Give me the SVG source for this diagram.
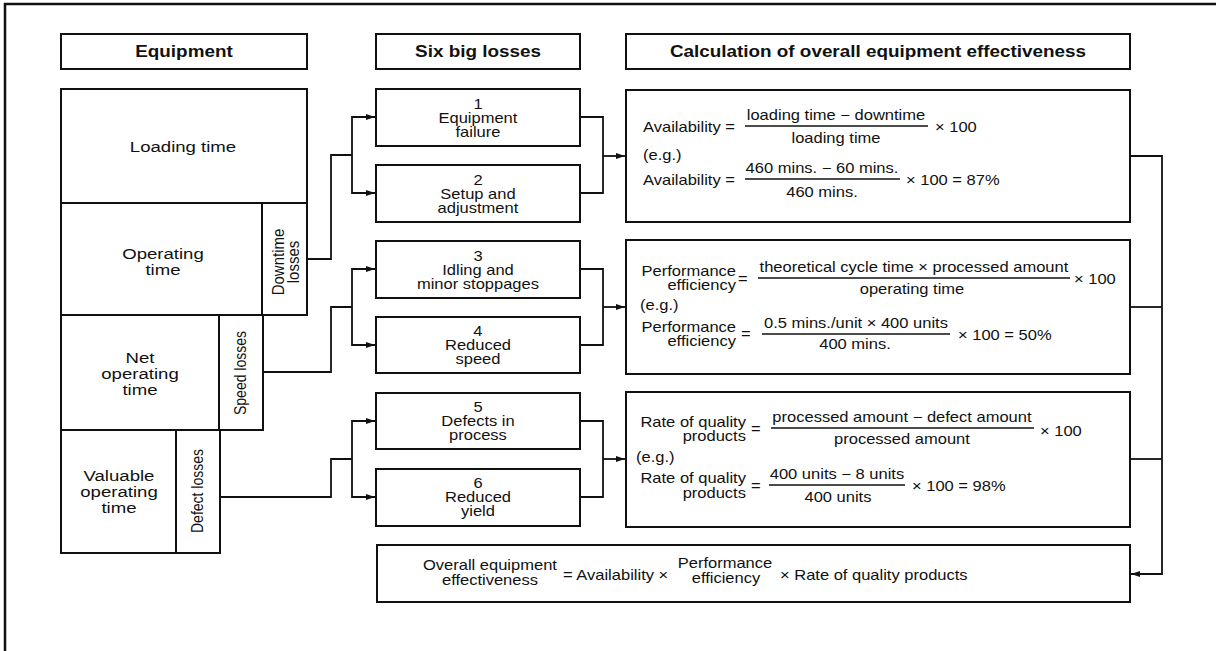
<svg xmlns="http://www.w3.org/2000/svg" width="1216" height="651" viewBox="0 0 1216 651">
  <style>
    .frame { fill: none; stroke: #111; stroke-width: 2.5; }
    .box { fill: #fff; stroke: #111; stroke-width: 2; }
    .ln { fill: none; stroke: #111; stroke-width: 1.8; }
    .bar { stroke: #111; stroke-width: 1.3; }
    text { font-family: "Liberation Sans", Arial, Helvetica, sans-serif; fill: #111; }
    /* the typeface is set slightly wide: glyphs are stretched horizontally around their anchor */
    .hd, .lb, .ls, .f, .fm, .fe { transform-box: fill-box; }
    .hd { font-size: 16px; font-weight: bold; text-anchor: middle; transform-origin: center; transform: scaleX(1.18); }
    .lb { font-size: 15px; text-anchor: middle; transform-origin: center; transform: scaleX(1.24); }
    .ls { font-size: 14px; text-anchor: middle; transform-origin: center; transform: scaleX(1.18); }
    .f { font-size: 14px; transform-origin: left; transform: scaleX(1.18); }
    .fm { font-size: 14px; text-anchor: middle; transform-origin: center; transform: scaleX(1.18); }
    .fe { font-size: 14px; text-anchor: end; transform-origin: right; transform: scaleX(1.18); }
    .rot { font-size: 15px; text-anchor: middle; }
    .rot-s { font-size: 14px; text-anchor: middle; }
  </style>
  <defs>
    <marker id="arrow" markerUnits="userSpaceOnUse" markerWidth="10" markerHeight="8" refX="9" refY="4" orient="auto">
      <path d="M0 1 L9 4 L0 7 Z" fill="#111"/>
    </marker>
  </defs>

  <rect width="1216" height="651" fill="#fff"/>
  <!-- page frame: top and left edges only -->
  <path class="frame" d="M5 651 V4 H1216"/>

  <!-- column headers -->
  <g id="hdr-equipment">
    <rect class="box" x="61" y="34" width="246" height="35"/>
    <text class="hd" x="184" y="57">Equipment</text>
  </g>
  <g id="hdr-losses">
    <rect class="box" x="376" y="34" width="204" height="35"/>
    <text class="hd" x="478" y="57">Six big losses</text>
  </g>
  <g id="hdr-calc">
    <rect class="box" x="626" y="34" width="504" height="35"/>
    <text class="hd" x="878" y="57">Calculation of overall equipment effectiveness</text>
  </g>

  <!-- equipment time breakdown -->
  <g id="loading-time">
    <rect class="box" x="61" y="89" width="246" height="114"/>
    <text class="lb" x="183" y="152">Loading time</text>
  </g>
  <g id="operating-time">
    <rect class="box" x="61" y="203" width="201" height="112"/>
    <text class="lb" x="163" y="259">Operating</text>
    <text class="lb" x="163" y="275">time</text>
  </g>
  <g id="downtime-losses">
    <rect class="box" x="262" y="203" width="45" height="112"/>
    <text class="rot" transform="translate(284 262) rotate(-90) scale(1 1.12)">Downtime</text>
    <text class="rot" transform="translate(299 262) rotate(-90) scale(1 1.12)">losses</text>
  </g>
  <g id="net-operating-time">
    <rect class="box" x="61" y="315" width="158" height="115"/>
    <text class="lb" x="140" y="363">Net</text>
    <text class="lb" x="140" y="379">operating</text>
    <text class="lb" x="140" y="395">time</text>
  </g>
  <g id="speed-losses">
    <rect class="box" x="219" y="315" width="44" height="115"/>
    <text class="rot-s" transform="translate(246 373) rotate(-90) scale(1 1.12)">Speed losses</text>
  </g>
  <g id="valuable-operating-time">
    <rect class="box" x="61" y="430" width="115" height="123"/>
    <text class="lb" x="119" y="481">Valuable</text>
    <text class="lb" x="119" y="497">operating</text>
    <text class="lb" x="119" y="513">time</text>
  </g>
  <g id="defect-losses">
    <rect class="box" x="176" y="430" width="44" height="123"/>
    <text class="rot-s" transform="translate(203 491) rotate(-90) scale(1 1.12)">Defect losses</text>
  </g>

  <!-- six big losses -->
  <g id="loss-1">
    <rect class="box" x="376" y="89" width="204" height="57"/>
    <text class="ls" x="478" y="109">1</text>
    <text class="ls" x="478" y="123">Equipment</text>
    <text class="ls" x="478" y="137">failure</text>
  </g>
  <g id="loss-2">
    <rect class="box" x="376" y="165" width="204" height="57"/>
    <text class="ls" x="478" y="185">2</text>
    <text class="ls" x="478" y="199">Setup and</text>
    <text class="ls" x="478" y="213">adjustment</text>
  </g>
  <g id="loss-3">
    <rect class="box" x="376" y="241" width="204" height="57"/>
    <text class="ls" x="478" y="261">3</text>
    <text class="ls" x="478" y="275">Idling and</text>
    <text class="ls" x="478" y="289">minor stoppages</text>
  </g>
  <g id="loss-4">
    <rect class="box" x="376" y="317" width="204" height="56"/>
    <text class="ls" x="478" y="336">4</text>
    <text class="ls" x="478" y="350">Reduced</text>
    <text class="ls" x="478" y="364">speed</text>
  </g>
  <g id="loss-5">
    <rect class="box" x="376" y="393" width="204" height="56"/>
    <text class="ls" x="478" y="412">5</text>
    <text class="ls" x="478" y="426">Defects in</text>
    <text class="ls" x="478" y="440">process</text>
  </g>
  <g id="loss-6">
    <rect class="box" x="376" y="469" width="204" height="57"/>
    <text class="ls" x="478" y="488">6</text>
    <text class="ls" x="478" y="502">Reduced</text>
    <text class="ls" x="478" y="516">yield</text>
  </g>

  <!-- availability -->
  <g id="calc-availability">
    <rect class="box" x="626" y="90" width="504" height="132"/>
    <text class="f" x="643" y="132">Availability =</text>
    <text class="fm" x="836" y="120">loading time − downtime</text>
    <line class="bar" x1="745" y1="126" x2="928" y2="126"/>
    <text class="fm" x="836" y="143">loading time</text>
    <text class="f" x="935" y="132">× 100</text>
    <text class="f" x="643" y="160">(e.g.)</text>
    <text class="f" x="643" y="185">Availability =</text>
    <text class="fm" x="822" y="173">460 mins. − 60 mins.</text>
    <line class="bar" x1="745" y1="179" x2="900" y2="179"/>
    <text class="fm" x="822" y="197">460 mins.</text>
    <text class="f" x="906" y="185">× 100 = 87%</text>
  </g>

  <!-- performance efficiency -->
  <g id="calc-performance">
    <rect class="box" x="626" y="240" width="504" height="134"/>
    <text class="fe" x="736" y="276">Performance</text>
    <text class="fe" x="736" y="290">efficiency</text>
    <text class="f" x="738" y="284">=</text>
    <text class="fm" x="914" y="272">theoretical cycle time × processed amount</text>
    <line class="bar" x1="758" y1="278" x2="1070" y2="278"/>
    <text class="fm" x="912" y="294">operating time</text>
    <text class="f" x="1074" y="284">× 100</text>
    <text class="f" x="640" y="310">(e.g.)</text>
    <text class="fe" x="736" y="332">Performance</text>
    <text class="fe" x="736" y="346">efficiency</text>
    <text class="f" x="741" y="339">=</text>
    <text class="fm" x="856" y="328">0.5 mins./unit × 400 units</text>
    <line class="bar" x1="762" y1="334" x2="950" y2="334"/>
    <text class="fm" x="855" y="349">400 mins.</text>
    <text class="f" x="958" y="340">× 100 = 50%</text>
  </g>

  <!-- rate of quality products -->
  <g id="calc-quality">
    <rect class="box" x="626" y="392" width="504" height="135"/>
    <text class="fe" x="746" y="427">Rate of quality</text>
    <text class="fe" x="746" y="441">products</text>
    <text class="f" x="751" y="434">=</text>
    <text class="fm" x="902" y="422">processed amount − defect amount</text>
    <line class="bar" x1="771" y1="428" x2="1034" y2="428"/>
    <text class="fm" x="902" y="444">processed amount</text>
    <text class="f" x="1040" y="436">× 100</text>
    <text class="f" x="636" y="462">(e.g.)</text>
    <text class="fe" x="746" y="483">Rate of quality</text>
    <text class="fe" x="746" y="498">products</text>
    <text class="f" x="751" y="491">=</text>
    <text class="fm" x="837" y="479">400 units − 8 units</text>
    <line class="bar" x1="769" y1="485" x2="905" y2="485"/>
    <text class="fm" x="838" y="502">400 units</text>
    <text class="f" x="912" y="491">× 100 = 98%</text>
  </g>

  <!-- overall equipment effectiveness -->
  <g id="calc-oee">
    <rect class="box" x="377" y="545" width="753" height="57"/>
    <text class="fm" x="490" y="570">Overall equipment</text>
    <text class="fm" x="490" y="585">effectiveness</text>
    <text class="f" x="563" y="580">= Availability ×</text>
    <text class="fm" x="725" y="568">Performance</text>
    <text class="fm" x="726" y="583">efficiency</text>
    <text class="f" x="780" y="580">× Rate of quality products</text>
  </g>

  <!-- connectors -->
  <g id="connectors">
    <!-- losses into the six big losses -->
    <path class="ln" d="M307 259 H331 V155 H352"/>
    <path class="ln" d="M352 155 V117 H375" marker-end="url(#arrow)"/>
    <path class="ln" d="M352 155 V193 H375" marker-end="url(#arrow)"/>

    <path class="ln" d="M263 372 H331 V307 H352"/>
    <path class="ln" d="M352 307 V269 H375" marker-end="url(#arrow)"/>
    <path class="ln" d="M352 307 V345 H375" marker-end="url(#arrow)"/>

    <path class="ln" d="M220 497 H331 V459 H352"/>
    <path class="ln" d="M352 459 V421 H375" marker-end="url(#arrow)"/>
    <path class="ln" d="M352 459 V497 H375" marker-end="url(#arrow)"/>

    <!-- loss pairs into the calculations -->
    <path class="ln" d="M580 117 H603 V193 H580"/>
    <path class="ln" d="M603 156 H625" marker-end="url(#arrow)"/>
    <path class="ln" d="M580 269 H603 V345 H580"/>
    <path class="ln" d="M603 307 H625" marker-end="url(#arrow)"/>
    <path class="ln" d="M580 421 H603 V497 H580"/>
    <path class="ln" d="M603 459 H625" marker-end="url(#arrow)"/>

    <!-- calculations into overall effectiveness -->
    <path class="ln" d="M1130 156 H1162 V574 H1131" marker-end="url(#arrow)"/>
    <path class="ln" d="M1130 307 H1162"/>
    <path class="ln" d="M1130 459 H1162"/>
  </g>
</svg>
